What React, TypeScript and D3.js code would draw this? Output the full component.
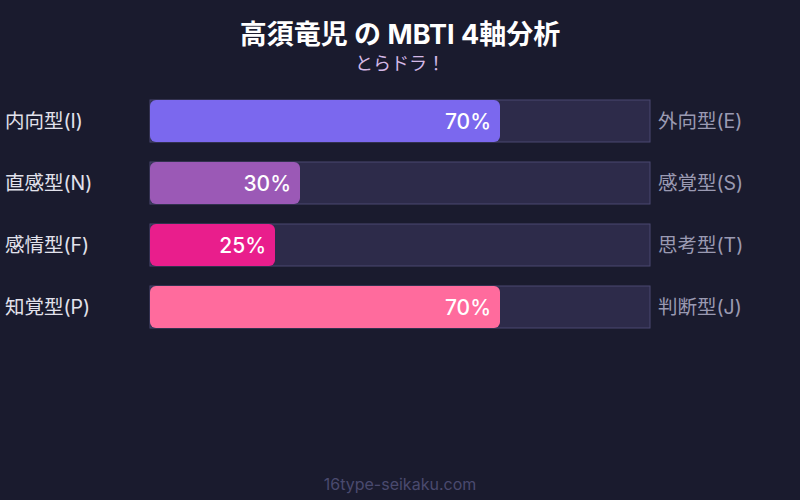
import * as d3 from "d3";

const leftLabels = ["内向型(I)", "直感型(N)", "感情型(F)", "知覚型(P)"];
const rightLabels = ["外向型(E)", "感覚型(S)", "思考型(T)", "判断型(J)"];
const values = [70, 30, 25, 70];
const colors = ["#7b68ee", "#9b59b6", "#e91e8c", "#ff6b9d"];

const width = 800;
const height = 500;
const font = "Inter, 'Noto Sans CJK JP', sans-serif";

export default function App() {
  const x = d3.scaleLinear().domain([0, 100]).range([150, 650]);
  const y = d3
    .scaleBand<number>()
    .domain(d3.range(values.length))
    .range([100, 100 + 62 * values.length - 20])
    .paddingInner(20 / 62)
    .paddingOuter(0);
  const bh = y.bandwidth();

  return (
    <svg
      width={width}
      height={height}
      style={{ position: "absolute", left: 0, top: 0, display: "block", fontFamily: font }}
    >
      <rect width={width} height={height} fill="#1a1b2e" />
      <text x={400} y={44} textAnchor="middle" fill="#ffffff" fontSize={27} fontWeight="bold">
        高須竜児 の MBTI 4軸分析
      </text>
      <text x={400} y={70} textAnchor="middle" fill="#d4b8e6" fontSize={18}>
        とらドラ！
      </text>

      {values.map((v, i) => {
        const top = y(i)!;
        const cy = top + bh / 2;
        return (
          <g key={i}>
            <rect
              x={x(0)}
              y={top}
              width={x(100) - x(0)}
              height={bh}
              fill="#2d2b4a"
              stroke="#4a4870"
              strokeWidth={1}
            />
            <rect x={x(0)} y={top} width={x(v) - x(0)} height={bh} rx={6} fill={colors[i]} />
            <text
              x={x(v) - 9}
              y={cy}
              dy="0.36em"
              textAnchor="end"
              fill="#ffffff"
              fontSize={21}
              fontWeight={500}
            >
              {v}%
            </text>
            <text x={5} y={cy} dy="0.36em" fill="#e2e2ec" fontSize={19.5}>
              {leftLabels[i]}
            </text>
            <text x={658} y={cy} dy="0.36em" fill="#9a9ab2" fontSize={19.5}>
              {rightLabels[i]}
            </text>
          </g>
        );
      })}

      <text x={400} y={490} textAnchor="middle" fill="#4a4a6e" fontSize={16}>
        16type-seikaku.com
      </text>
    </svg>
  );
}
